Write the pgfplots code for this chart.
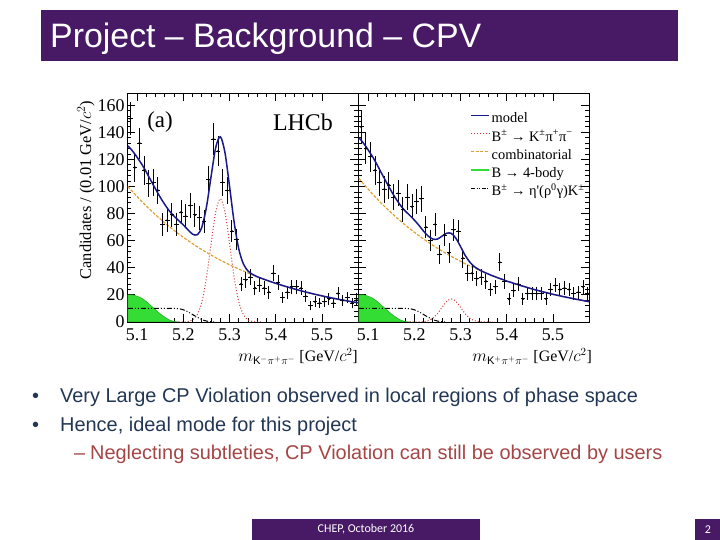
\documentclass[border=0pt]{standalone}
\usepackage{fontspec}
\setmainfont{Liberation Sans}
\newfontfamily\timesf{Liberation Serif}
\newfontfamily\calib{Carlito}
\usepackage{pgfplots}
\pgfplotsset{compat=1.18}
\usepackage{pgfplotstable}

\definecolor{slidepurple}{RGB}{72,26,102}
\definecolor{bodytext}{RGB}{35,55,85}
\definecolor{subtext}{RGB}{165,70,70}
\definecolor{modelblue}{RGB}{25,25,140}
\definecolor{sigred}{RGB}{210,60,60}
\definecolor{comborange}{RGB}{225,160,50}
\definecolor{fourgreen}{RGB}{51,221,51}

\pgfplotstableread{
m n
5.085 150
5.095 114
5.105 132
5.115 112
5.125 102
5.135 103
5.145 97
5.155 72
5.165 75
5.175 79
5.185 72
5.195 81
5.205 78
5.215 86
5.225 79
5.235 77
5.245 74
5.255 105
5.265 135
5.275 126
5.285 103
5.295 97
5.305 67
5.315 61
5.325 28
5.335 31
5.345 33
5.355 25
5.365 27
5.375 25
5.385 22
5.395 36
5.405 29
5.415 18
5.425 22
5.435 26
5.445 26
5.455 25
5.465 19
5.475 12
5.485 15
5.495 14
5.505 15
5.515 17
5.525 14
5.535 21
5.545 16
5.555 18
5.565 14
5.575 17
}\leftdata

\pgfplotstableread{
m n
5.085 144
5.095 128
5.105 122
5.115 112
5.125 103
5.135 98
5.145 101
5.155 92
5.165 95
5.175 83
5.185 92
5.195 85
5.205 89
5.215 91
5.225 70
5.235 60
5.245 72
5.255 50
5.265 64
5.275 51
5.285 68
5.295 67
5.305 47
5.315 36
5.325 36
5.335 32
5.345 33
5.355 30
5.365 24
5.375 26
5.385 44
5.395 30
5.405 17
5.415 23
5.425 28
5.435 17
5.445 21
5.455 21
5.465 21
5.475 21
5.485 17
5.495 24
5.505 27
5.515 24
5.525 25
5.535 24
5.545 21
5.555 22
5.565 26
5.575 21
}\rightdata

\pgfplotsset{
  lhcb/.style={
    width=231bp, height=229bp, scale only axis,
    xmin=5.078, xmax=5.578, ymin=0, ymax=169,
    xtick={5.1,5.2,5.3,5.4,5.5},
    ytick={0,20,...,160},
    minor x tick num=4, minor y tick num=4,
    tick align=inside,
    major tick length=8bp, minor tick length=4bp,
    tick style={black, line width=0.8bp},
    axis line style={line width=0.8bp},
    /pgf/number format/assume math mode=true,
    xticklabel style={/pgf/number format/.cd, fixed, fixed zerofill, precision=1, /tikz/.cd, yshift=-3bp},
    yticklabel style={xshift=1bp},
    tick label style={font=\timesf\fontsize{18}{18}\selectfont},
    clip=true,
  },
  datapts/.style={only marks, mark=*, mark size=0.9bp, black,
    error bars/.cd, y dir=both, y explicit, x dir=both, x explicit,
    error mark=none, error bar style={line width=1bp, black}, /pgfplots/.cd},
  modelline/.style={modelblue, line width=1.5bp, smooth},
  sigline/.style={sigred, dotted, line width=1bp, smooth},
  combline/.style={comborange, dash pattern=on 3bp off 1.5bp, line width=1.2bp, smooth},
  etaline/.style={black, dash pattern=on 5bp off 2bp on 1bp off 2bp on 1bp off 2bp, line width=1bp, smooth},
  greenfill/.style={draw=fourgreen!75!black, fill=fourgreen, line width=0.5bp, smooth},
}

\begin{document}
\begin{tikzpicture}
\begin{scope}[x=1bp,y=1bp]
\path[fill=white, use as bounding box] (0,0) rectangle (720,540);
% title bar
\fill[slidepurple] (41,479) rectangle (678,530);
\node[anchor=base west, text=white, inner sep=0pt, font=\fontsize{34}{36}\selectfont] at (50,492) {Project – Background – CPV};
\end{scope}

% left panel
\begin{axis}[lhcb, at={(127bp,218bp)}, anchor=south west]
\addplot[forget plot, greenfill] coordinates {(5.08,20)(5.09,20)(5.10,19)(5.11,17.5)(5.12,15)(5.13,12)(5.14,9)(5.15,6)(5.16,3.5)(5.17,1.5)(5.18,0.4)(5.19,0)} \closedcycle;
\addplot[forget plot, etaline] coordinates {(5.08,10)(5.10,10)(5.12,10)(5.14,10)(5.16,10)(5.18,10)(5.19,9.8)(5.20,9)(5.21,7.5)(5.22,5.5)(5.23,3.5)(5.24,1.8)(5.25,0.7)(5.26,0.2)(5.27,0)};
\addplot[forget plot, sigline] coordinates {(5.19,0)(5.20,0.06)(5.21,0.35)(5.22,1.5)(5.23,5.3)(5.24,14.8)(5.25,32.8)(5.26,57.8)(5.27,81.2)(5.28,91)(5.29,81.2)(5.30,57.8)(5.31,32.8)(5.32,14.8)(5.33,5.3)(5.34,1.5)(5.35,0.35)(5.36,0.06)(5.37,0)};
\addplot[forget plot, combline] coordinates {(5.08,100)(5.09,96.16)(5.10,92.46)(5.11,88.91)(5.12,85.49)(5.13,82.20)(5.14,79.04)(5.15,76.01)(5.16,73.08)(5.17,70.28)(5.18,67.57)(5.19,64.98)(5.20,62.48)(5.21,60.08)(5.22,57.77)(5.23,55.55)(5.24,53.41)(5.25,51.36)(5.26,49.39)(5.27,47.49)(5.28,45.66)(5.29,43.91)(5.30,42.22)(5.31,40.60)(5.32,39.04)(5.33,37.54)(5.34,36.09)(5.35,34.71)(5.36,33.37)(5.37,32.09)(5.38,30.86)(5.39,29.67)(5.40,28.53)(5.41,27.43)(5.42,26.38)(5.43,25.37)(5.44,24.39)(5.45,23.45)(5.46,22.55)(5.47,21.69)(5.48,20.85)(5.49,20.05)(5.50,19.28)(5.51,18.54)(5.52,17.83)(5.53,17.14)(5.54,16.48)(5.55,15.85)(5.56,15.24)(5.57,14.65)(5.58,14.09)};
\addplot[forget plot, datapts] table[x=m, y=n, x error expr={0.005}, y error expr={sqrt(\thisrow{n})}] {\leftdata};
\addplot[forget plot, modelline] coordinates {(5.08,130)(5.09,126.2)(5.10,121.5)(5.11,116.4)(5.12,110.5)(5.13,104.2)(5.14,98.0)(5.15,92.0)(5.16,86.6)(5.17,81.8)(5.18,78.0)(5.19,74.8)(5.20,71.6)(5.21,68.0)(5.22,64.8)(5.23,64.4)(5.24,70.0)(5.25,84.9)(5.26,107.4)(5.27,128.7)(5.28,136.7)(5.29,125.1)(5.30,100.0)(5.31,73.4)(5.32,53.8)(5.33,42.8)(5.34,37.6)(5.35,35.1)(5.36,33.4)(5.37,32.09)(5.38,30.86)(5.39,29.67)(5.40,28.53)(5.41,27.43)(5.42,26.38)(5.43,25.37)(5.44,24.39)(5.45,23.45)(5.46,22.55)(5.47,21.69)(5.48,20.85)(5.49,20.05)(5.50,19.28)(5.51,18.54)(5.52,17.83)(5.53,17.14)(5.54,16.48)(5.55,15.85)(5.56,15.24)(5.57,14.65)(5.58,14.09)};
\end{axis}

% right panel
\begin{axis}[lhcb, at={(358bp,218bp)}, anchor=south west, yticklabels={},
  legend cell align=left,
  legend style={at={(0.487,0.914)}, anchor=north west, draw=none, fill=none,
    font=\timesf\fontsize{14.5}{17}\selectfont, row sep=5.2bp, column sep=1.5bp, inner sep=0pt,
    nodes={inner sep=0pt, text height=10bp, text depth=3bp}},
  legend image code/.code={\draw[#1] (0bp,4bp) -- (18bp,4bp);}]
\addlegendimage{modelblue, line width=1.5bp}
\addlegendentry{model}
\addlegendimage{sigred, dotted, line width=1bp}
\addlegendentry{B\textsuperscript{±} → K\textsuperscript{±}π\textsuperscript{+}π\textsuperscript{−}}
\addlegendimage{comborange, dash pattern=on 3bp off 1.5bp, line width=1.2bp}
\addlegendentry{combinatorial}
\addlegendimage{fourgreen, line width=1.5bp}
\addlegendentry{B → 4-body}
\addlegendimage{black, dash pattern=on 4bp off 1.5bp on 1bp off 1.5bp on 1bp off 1.5bp, line width=1bp}
\addlegendentry{B\textsuperscript{±} → η'(ρ\textsuperscript{0}γ)K\textsuperscript{±}}
\addplot[forget plot, greenfill] coordinates {(5.08,20)(5.09,20)(5.10,19)(5.11,17.5)(5.12,15)(5.13,12)(5.14,9)(5.15,6)(5.16,3.5)(5.17,1.5)(5.18,0.4)(5.19,0)} \closedcycle;
\addplot[forget plot, etaline] coordinates {(5.08,10)(5.10,10)(5.12,10)(5.14,10)(5.16,10)(5.18,10)(5.19,9.8)(5.20,9)(5.21,7.5)(5.22,5.5)(5.23,3.5)(5.24,1.8)(5.25,0.7)(5.26,0.2)(5.27,0)};
\addplot[forget plot, sigline] coordinates {(5.19,0)(5.20,0.01)(5.21,0.07)(5.22,0.29)(5.23,1.0)(5.24,2.8)(5.25,6.1)(5.26,10.8)(5.27,15.2)(5.28,17)(5.29,15.2)(5.30,10.8)(5.31,6.1)(5.32,2.8)(5.33,1.0)(5.34,0.29)(5.35,0.07)(5.36,0.01)(5.37,0)};
\addplot[forget plot, combline] coordinates {(5.08,106.0)(5.09,101.9)(5.10,98.0)(5.11,94.2)(5.12,90.6)(5.13,87.1)(5.14,83.8)(5.15,80.6)(5.16,77.5)(5.17,74.5)(5.18,71.6)(5.19,68.9)(5.20,66.2)(5.21,63.7)(5.22,61.2)(5.23,58.9)(5.24,56.6)(5.25,54.4)(5.26,52.4)(5.27,50.3)(5.28,48.4)(5.29,46.5)(5.30,44.8)(5.31,43.0)(5.32,41.4)(5.33,39.8)(5.34,38.3)(5.35,36.8)(5.36,35.4)(5.37,34.0)(5.38,32.7)(5.39,31.5)(5.40,30.2)(5.41,29.1)(5.42,28.0)(5.43,26.9)(5.44,25.9)(5.45,24.9)(5.46,23.9)(5.47,23.0)(5.48,22.1)(5.49,21.3)(5.50,20.4)(5.51,19.7)(5.52,18.9)(5.53,18.2)(5.54,17.5)(5.55,16.8)(5.56,16.2)(5.57,15.5)(5.58,14.9)};
\addplot[forget plot, datapts] table[x=m, y=n, x error expr={0.005}, y error expr={sqrt(\thisrow{n})}] {\rightdata};
\addplot[forget plot, modelline] coordinates {(5.08,136.0)(5.09,131.9)(5.10,127.0)(5.11,121.7)(5.12,115.6)(5.13,109.1)(5.14,102.8)(5.15,96.6)(5.16,91.0)(5.17,86.0)(5.18,82.0)(5.19,78.7)(5.20,75.2)(5.21,71.3)(5.22,67.0)(5.23,63.4)(5.24,61.2)(5.25,61.2)(5.26,63.4)(5.27,65.5)(5.28,65.4)(5.29,61.7)(5.30,55.6)(5.31,49.1)(5.32,44.2)(5.33,40.8)(5.34,38.6)(5.35,36.9)(5.36,35.4)(5.37,34.0)(5.38,32.7)(5.39,31.5)(5.40,30.2)(5.41,29.1)(5.42,28.0)(5.43,26.9)(5.44,25.9)(5.45,24.9)(5.46,23.9)(5.47,23.0)(5.48,22.1)(5.49,21.3)(5.50,20.4)(5.51,19.7)(5.52,18.9)(5.53,18.2)(5.54,17.5)(5.55,16.8)(5.56,16.2)(5.57,15.5)(5.58,14.9)};
\end{axis}

\begin{scope}[x=1bp,y=1bp]
% panel texts
\node[font=\timesf\fontsize{23}{23}\selectfont, inner sep=0pt] at (160,418) {(a)};
\node[font=\timesf\fontsize{24}{24}\selectfont, inner sep=0pt] at (303,418) {LHCb};
\node[rotate=90, font=\timesf\fontsize{16.5}{16.5}\selectfont, inner sep=0pt] at (86,350) {Candidates / (0.01 GeV/$c^{2}$)};
\node[anchor=base east, font=\timesf\fontsize{16}{16}\selectfont, inner sep=0pt] at (358,178) {$m_{\mathrm{K^{-}}\pi^{+}\pi^{-}}$ [GeV/$c^{2}$]};
\node[anchor=base east, font=\timesf\fontsize{16}{16}\selectfont, inner sep=0pt] at (592,178) {$m_{\mathrm{K^{+}}\pi^{+}\pi^{-}}$ [GeV/$c^{2}$]};

% bullets
\begin{scope}[every node/.style={anchor=base west, inner sep=0pt, font=\fontsize{20}{22}\selectfont}]
\node[text=bodytext] at (32,137) {•};
\node[text=bodytext] at (60,137) {Very Large CP Violation observed in local regions of phase space};
\node[text=bodytext] at (32,108) {•};
\node[text=bodytext] at (60,108) {Hence, ideal mode for this project};
\node[text=subtext] at (74,80) {–};
\node[text=subtext] at (90,80) {Neglecting subtleties, CP Violation can still be observed by users};
\end{scope}

% footer
\fill[slidepurple] (252,0) rectangle (480,21);
\node[text=white, font=\calib\fontsize{12}{13}\selectfont, inner sep=0pt] at (366,10.5) {CHEP, October 2016};
\fill[slidepurple] (695,0) rectangle (720,21);
\node[text=white, font=\calib\fontsize{12}{13}\selectfont, inner sep=0pt] at (708,10.5) {2};
\end{scope}
\end{tikzpicture}
\end{document}
